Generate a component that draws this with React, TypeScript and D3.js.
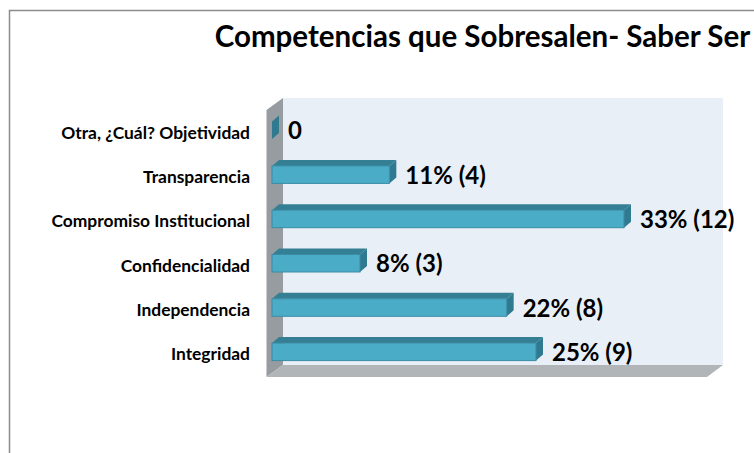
import React from "react";
import * as d3 from "d3";

const categories = ["Otra, ¿Cuál? Objetividad", "Transparencia", "Compromiso Institucional", "Confidencialidad", "Independencia", "Integridad"];
const counts = [0, 4, 12, 3, 8, 9];
const valueLabels = ["0", "11% (4)", "33% (12)", "8% (3)", "22% (8)", "25% (9)"];
const title = "Competencias que Sobresalen- Saber Ser";

const W = 754, H = 453;
const FONT = "Lato, Carlito, 'Open Sans', sans-serif";
const x = d3.scaleLinear().domain([0, 12]).range([272, 624]);
const y = d3.scaleBand<string>().domain(categories).range([108.2, 374]).paddingInner(0.6).paddingOuter(0.3);
const depthX = 7, depthY = 6;
const line = d3.line();
const poly = (pts: [number, number][]) => line(pts) + "Z";

export default function App() {
  const bandH = 17.5;
  return (
    <svg width={W} height={H} style={{ position: "absolute", left: 0, top: 0, background: "#fff" }} fontFamily={FONT}>
      <path d="M9.5 453V10.5H754" fill="none" stroke="#8c8c8c" strokeWidth={1.5} />
      <text x={482.5} y={47} textAnchor="middle" fontSize={29.5} fontWeight={700} fill="#000">{title}</text>

      <rect x={283} y={98} width={440} height={267} fill="#e8eff6" />
      <path d={poly([[266.5, 110], [283, 98], [283, 365], [266.5, 377]])} fill="#979ca1" />
      <path d={poly([[266.5, 377], [283, 365], [723, 365], [707, 377]])} fill="#b1b5b8" />

      {categories.map((c, i) => {
        const top = (y(c) as number) + (y.bandwidth() - bandH) / 2;
        const x0 = x(0), x1 = x(counts[i]);
        const bottom = top + bandH;
        return (
          <g key={c}>
            <path d={poly([[x0, top], [x0 + depthX, top - depthY], [x1 + depthX, top - depthY], [x1, top]])} fill="#357f94" />
            <path d={poly([[x1, top], [x1 + depthX, top - depthY], [x1 + depthX, bottom - depthY], [x1, bottom]])} fill="#2f7a90" />
            {counts[i] > 0 && (
              <rect x={x0} y={top} width={x1 - x0} height={bandH} fill="#4bacc8" stroke="#3a8ca4" strokeWidth={1} />
            )}
            <text x={250} y={top + bandH / 2 + 8.5} textAnchor="end" fontSize={17.4} fontWeight={700} fill="#000">{c}</text>
            <text x={x1 + depthX + 9} y={top + bandH / 2 + 9} fontSize={24} fontWeight={700} fill="#000">{valueLabels[i]}</text>
          </g>
        );
      })}
    </svg>
  );
}
